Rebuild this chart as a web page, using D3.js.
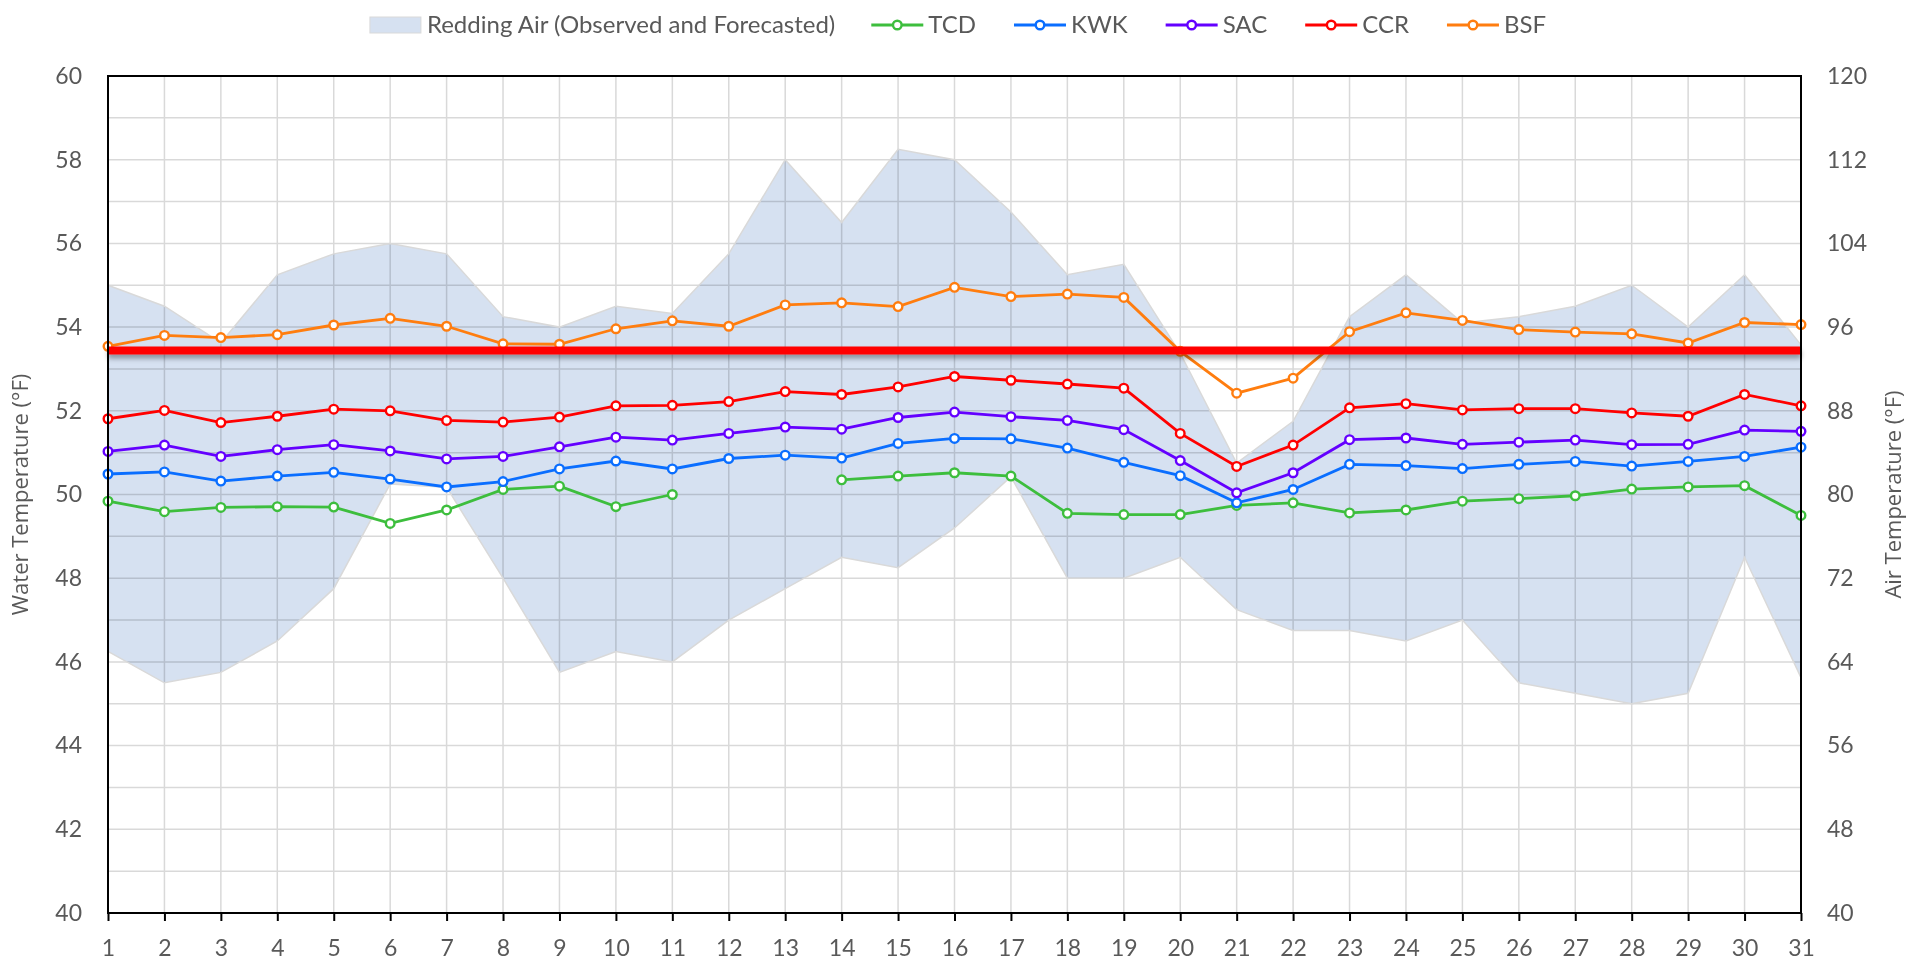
<!DOCTYPE html>
<html>
<head>
<meta charset="utf-8">
<style>
    body { margin: 0; background: #fff; }
    .tick text, .legend text { font-family: Lato, "Liberation Sans", sans-serif; font-size: 23px; fill: #595959; }
    .legend text { font-size: 24px; }
    .title { font-family: "Open Sans", sans-serif; font-size: 22px; fill: #595959; }
    .grid line { stroke: #D9D9D9; stroke-width: 1.5px; }
    .band { fill: #D6E1F1; mix-blend-mode: multiply; }
    .bandEdge { fill: none; stroke: #D9D9D9; stroke-width: 1.5px; }
    .series { fill: none; stroke-width: 2.8px; }
    .marker { fill: #fff; stroke-width: 2.4px; }
    .frame { stroke: #000; stroke-width: 2px; }
</style>
<script src="https://d3js.org/d3.v7.min.js"></script>
</head>
<body>
<script>
    // days of the month
    const days = d3.range(1, 32);

    // Redding air temperature band (deg F, right axis)
    const airHigh = [100, 98, 94.5, 101, 103, 104, 103, 97, 96, 98, 97.3, 103, 112, 106, 113, 112, 107, 101, 102, 93.5,
                     83, 87, 97, 101, 96.4, 97, 98, 100, 96, 101, 94.3];
    const airLow = [65, 62, 63, 66, 71, 81, 80.7, 72, 63, 65, 64, 68, 71, 74, 73, 76.8, 81.7, 72, 72, 74,
                    69, 67, 67, 66, 68, 62, 61, 60, 61, 74, 62.5];

    // water temperatures (deg F, left axis)
    const tcd = [49.84, 49.59, 49.69, 49.71, 49.70, 49.31, 49.63, 50.12, 50.20, 49.71, 50.00, null, null, 50.35, 50.44, 50.52,
                 50.44, 49.55, 49.52, 49.52, 49.74, 49.80, 49.56, 49.63, 49.84, 49.90, 49.97, 50.13, 50.18, 50.21, 49.50];
    const kwk = [50.49, 50.54, 50.32, 50.44, 50.53, 50.37, 50.18, 50.31, 50.61, 50.80, 50.61, 50.86, 50.94, 50.87, 51.22, 51.34,
                 51.33, 51.11, 50.77, 50.45, 49.80, 50.12, 50.72, 50.69, 50.62, 50.72, 50.79, 50.68, 50.79, 50.91, 51.13];
    const sac = [51.03, 51.18, 50.91, 51.07, 51.19, 51.04, 50.85, 50.91, 51.14, 51.37, 51.30, 51.46, 51.61, 51.56, 51.84, 51.97,
                 51.86, 51.77, 51.55, 50.81, 50.04, 50.52, 51.31, 51.35, 51.20, 51.25, 51.30, 51.19, 51.20, 51.54, 51.51];
    const ccr = [51.81, 52.01, 51.72, 51.87, 52.04, 52.00, 51.77, 51.73, 51.85, 52.12, 52.13, 52.22, 52.46, 52.39, 52.57, 52.82,
                 52.73, 52.64, 52.54, 51.46, 50.67, 51.18, 52.07, 52.17, 52.02, 52.05, 52.05, 51.95, 51.87, 52.39, 52.12];
    const bsf = [53.54, 53.80, 53.75, 53.82, 54.05, 54.21, 54.02, 53.60, 53.59, 53.96, 54.15, 54.02, 54.53, 54.58, 54.49, 54.95,
                 54.73, 54.79, 54.71, 53.42, 52.42, 52.78, 53.89, 54.34, 54.16, 53.94, 53.88, 53.84, 53.62, 54.11, 54.06];

    const seriesNames = ["TCD", "KWK", "SAC", "CCR", "BSF"];
    const seriesValues = [tcd, kwk, sac, ccr, bsf];
    const seriesColors = ["#3DBE3D", "#0A6EFF", "#6400FF", "#FF0000", "#FF7D0F"];
    const airLabel = "Redding Air (Observed and Forecasted)";
    const threshold = 53.44;

    const leftTicks = d3.range(40, 61, 2);
    const rightTicks = d3.range(40, 121, 8);

    const W = 1910, H = 960;
    const m = { left: 108, right: 109, top: 76, bottom: 47 };

    const svg = d3.select("body").append("svg")
        .attr("width", W)
        .attr("height", H);

    // shadow under the threshold line (user space, a line has no bbox height)
    const defs = svg.append("defs");
    const shadow = defs.append("filter").attr("id", "shadow")
        .attr("filterUnits", "userSpaceOnUse")
        .attr("x", 0).attr("y", 0).attr("width", W).attr("height", H);
    shadow.append("feDropShadow")
        .attr("dx", 0).attr("dy", 4).attr("stdDeviation", 2.5)
        .attr("flood-color", "#000").attr("flood-opacity", 0.35);

    const x = d3.scalePoint()
        .domain(days)
        .range([m.left, W - m.right]);
    const yL = d3.scaleLinear().domain([40, 60]).range([H - m.bottom, m.top]);
    const yR = d3.scaleLinear().domain([40, 120]).range([H - m.bottom, m.top]);

    // gridlines: every day and every 1 deg F
    const grid = svg.append("g").attr("class", "grid");
    grid.selectAll(".v").data(days.slice(1, -1)).join("line")
        .attr("x1", d => x(d)).attr("x2", d => x(d))
        .attr("y1", m.top).attr("y2", H - m.bottom);
    grid.selectAll(".h").data(d3.range(41, 60)).join("line")
        .attr("x1", m.left).attr("x2", W - m.right)
        .attr("y1", d => yL(d)).attr("y2", d => yL(d));

    // air band
    const air = days.map((d, i) => ({ day: d, lo: airLow[i], hi: airHigh[i] }));
    svg.append("path")
        .attr("class", "band")
        .attr("d", d3.area().x(d => x(d.day)).y0(d => yR(d.lo)).y1(d => yR(d.hi))(air));
    svg.append("path").attr("class", "bandEdge")
        .attr("d", d3.line().x(d => x(d.day)).y(d => yR(d.hi))(air));
    svg.append("path").attr("class", "bandEdge")
        .attr("d", d3.line().x(d => x(d.day)).y(d => yR(d.lo))(air));

    // water temperature series
    const line = d3.line()
        .defined(d => d.v != null)
        .x(d => x(d.day))
        .y(d => yL(d.v));

    seriesValues.forEach((vals, k) => {
        const pts = days.map((d, i) => ({ day: d, v: vals[i] }));
        const g = svg.append("g");
        g.append("path")
            .attr("class", "series")
            .attr("stroke", seriesColors[k])
            .attr("d", line(pts));
        g.selectAll("circle")
            .data(pts.filter(p => p.v != null))
            .join("circle")
            .attr("class", "marker")
            .attr("stroke", seriesColors[k])
            .attr("cx", d => x(d.day))
            .attr("cy", d => yL(d.v))
            .attr("r", 4.3);
    });

    // threshold line
    svg.append("line")
        .attr("x1", m.left).attr("x2", W - m.right)
        .attr("y1", yL(threshold)).attr("y2", yL(threshold))
        .attr("stroke", "#FF0000")
        .attr("stroke-width", 8)
        .attr("filter", "url(#shadow)");

    // axes
    svg.append("g")
        .attr("transform", "translate(" + m.left + ",0)")
        .call(d3.axisLeft(yL).tickValues(leftTicks).tickSize(0).tickPadding(26))
        .call(g => g.select(".domain").remove());
    svg.append("g")
        .attr("transform", "translate(" + (W - m.right) + ",0)")
        .call(d3.axisRight(yR).tickValues(rightTicks).tickSize(0).tickPadding(26))
        .call(g => g.select(".domain").remove());
    const xa = svg.append("g")
        .attr("transform", "translate(0," + (H - m.bottom) + ")")
        .call(d3.axisBottom(x).tickSize(8).tickPadding(19));
    xa.select(".domain").remove();
    xa.selectAll(".tick line").attr("stroke", "#000").attr("stroke-width", 2);

    // frame
    const fr = svg.append("g").attr("class", "frame");
    fr.append("line").attr("x1", m.left).attr("x2", W - m.right).attr("y1", m.top).attr("y2", m.top);
    fr.append("line").attr("x1", m.left - 1).attr("x2", W - m.right + 1).attr("y1", H - m.bottom).attr("y2", H - m.bottom);
    fr.append("line").attr("x1", m.left).attr("x2", m.left).attr("y1", m.top - 1).attr("y2", H - m.bottom);
    fr.append("line").attr("x1", W - m.right).attr("x2", W - m.right).attr("y1", m.top - 1).attr("y2", H - m.bottom);

    // axis titles
    const midY = (m.top + H - m.bottom) / 2;
    svg.append("text").attr("class", "title")
        .attr("text-anchor", "middle")
        .attr("transform", "translate(28," + midY + ") rotate(-90)")
        .text("Water Temperature (°F)");
    svg.append("text").attr("class", "title")
        .attr("text-anchor", "middle")
        .attr("transform", "translate(1901," + midY + ") rotate(-90)")
        .text("Air Temperature (°F)");

    // legend
    const leg = svg.append("g").attr("class", "legend");
    const legY = 25;
    let cx = 0;
    const first = leg.append("g");
    first.append("rect")
        .attr("x", 0).attr("y", legY - 8).attr("width", 51).attr("height", 16)
        .attr("fill", "#D6E1F1").attr("stroke", "#D9D9D9");
    const t0 = first.append("text").attr("x", 57).attr("y", legY + 8).text(airLabel);
    cx = 57 + t0.node().getComputedTextLength() + 36;
    seriesNames.forEach((name, k) => {
        const g = leg.append("g").attr("transform", "translate(" + cx + ",0)");
        g.append("line").attr("x1", 0).attr("x2", 52).attr("y1", legY).attr("y2", legY)
            .attr("stroke", seriesColors[k]).attr("stroke-width", 2.8);
        g.append("circle").attr("cx", 26).attr("cy", legY).attr("r", 4.3)
            .attr("fill", "#fff").attr("stroke", seriesColors[k]).attr("stroke-width", 2.4);
        const t = g.append("text").attr("x", 57).attr("y", legY + 8).text(name);
        cx += 57 + t.node().getComputedTextLength() + 38;
    });
    const legW = cx - 38;
    leg.attr("transform", "translate(" + (958 - legW / 2) + ",0)");
</script>
</body>
</html>
